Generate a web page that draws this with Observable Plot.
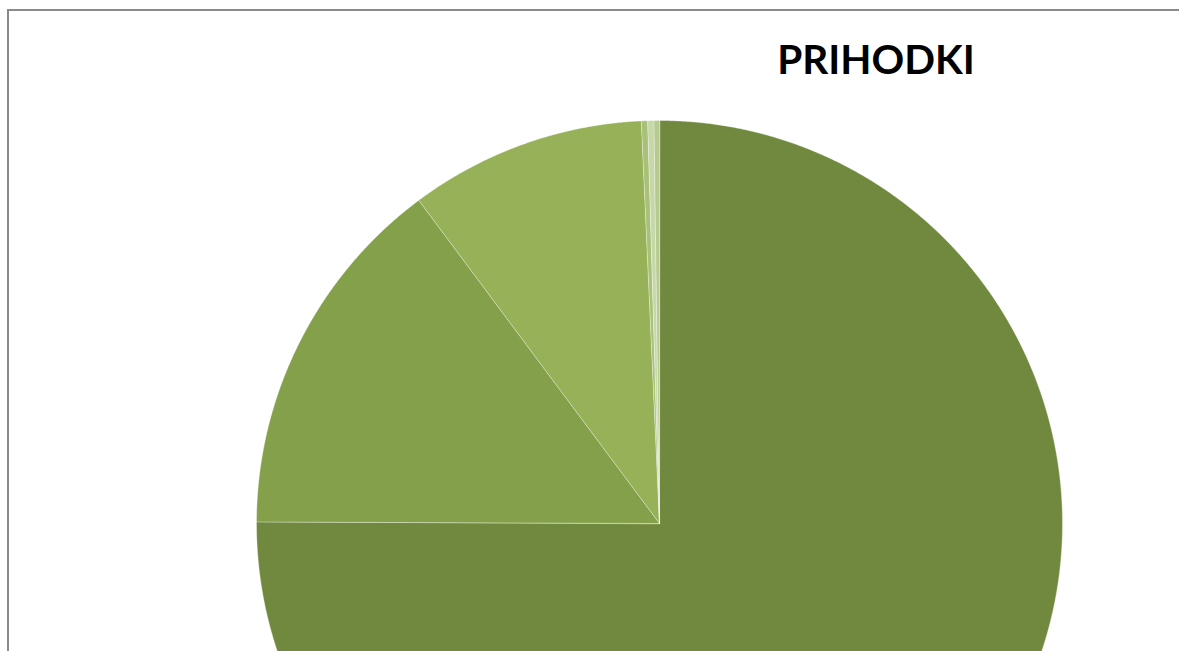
<!DOCTYPE html>
<html>
<head>
<meta charset="utf-8">
<script src="https://cdn.jsdelivr.net/npm/d3@7"></script>
<script src="https://cdn.jsdelivr.net/npm/@observablehq/plot@0.6"></script>
<style>
  html, body { margin: 0; padding: 0; background: #fff; overflow: hidden; width: 1179px; height: 651px; }
  #frame { position: absolute; left: 7px; top: 9px; width: 1400px; height: 900px; border-left: 2px solid #8a8a8a; border-top: 2px solid #8a8a8a; }
  #title { position: absolute; left: 876px; top: 39px; transform: translateX(-50%); font-family: Lato, "Open Sans", sans-serif; font-weight: 700; font-size: 40.5px; line-height: 1; color: #000; white-space: nowrap; }
  #chart { position: absolute; left: 0; top: 0; }
</style>
</head>
<body>
<div id="frame"></div>
<div id="chart"></div>
<div id="title">PRIHODKI</div>
<script>
const categories = ["Davčni prihodki", "Nedavčni prihodki", "Transferni prihodki", "Kapitalski prihodki", "Prejete donacije", "Drugi prihodki"];
const values = [75.06, 14.75, 9.47, 0.25, 0.25, 0.22];
const colors = ["#71893e", "#85a04b", "#96b157", "#a8c078", "#c6d7a9", "#b7ca90"];

// build slice polygons (unit circle, clockwise from 12 o'clock) from the values
const pie = d3.pie().sort(null).value(d => d.value)(categories.map((c, i) => ({category: c, value: values[i]})));
const pts = [];
for (const s of pie) {
  const cat = s.data.category;
  pts.push({category: cat, x: 0, y: 0});
  const n = Math.max(2, Math.ceil((s.endAngle - s.startAngle) / 0.004));
  for (let k = 0; k <= n; k++) {
    const a = s.startAngle + (s.endAngle - s.startAngle) * k / n;
    pts.push({category: cat, x: Math.sin(a), y: Math.cos(a)});
  }
}

const cx = 659, cy = 523, r = 403;
const chart = Plot.plot({
  width: 1179,
  height: 651,
  margin: 0,
  x: {domain: [-1, 1], range: [cx - r, cx + r], axis: null},
  y: {domain: [-1, 1], range: [cy + r, cy - r], axis: null},
  color: {domain: categories, range: colors},
  marks: [
    Plot.line(pts, {x: "x", y: "y", z: "category", fill: "category", stroke: "#ffffff", strokeWidth: 0.8, strokeOpacity: 0.45, curve: "linear-closed"})
  ]
});
chart.style.background = "transparent";
document.getElementById("chart").appendChild(chart);
</script>
</body>
</html>
